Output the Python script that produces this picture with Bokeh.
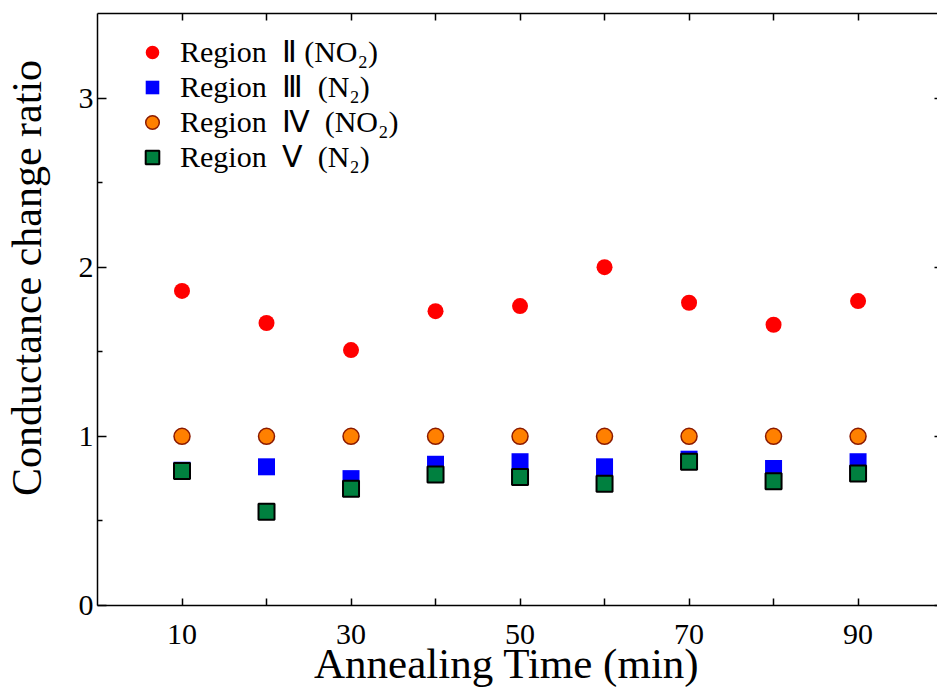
from bokeh.plotting import figure
from bokeh.models import Range1d, FixedTicker, LinearAxis, Legend, LegendItem
from bokeh.embed import file_html
from bokeh.resources import INLINE

# ---- data ----
annealing_time = [10, 20, 30, 40, 50, 60, 70, 80, 90]
region2_no2 = [1.86, 1.67, 1.51, 1.74, 1.77, 2.00, 1.79, 1.66, 1.80]
region3_n2 = [0.80, 0.82, 0.75, 0.835, 0.85, 0.82, 0.865, 0.81, 0.85]
region4_no2 = [1.00, 1.00, 1.00, 1.00, 1.00, 1.00, 1.00, 1.00, 1.00]
region5_n2 = [0.795, 0.555, 0.69, 0.775, 0.76, 0.72, 0.85, 0.735, 0.78]

NBSP = "\u00a0"
labels = ["Region" + NBSP + " Ⅱ (NO₂)",
          "Region" + NBSP + " Ⅲ" + NBSP + " (N₂)",
          "Region" + NBSP + " Ⅳ" + NBSP + " (NO₂)",
          "Region" + NBSP + " Ⅴ" + NBSP + " (N₂)"]
x_title = "Annealing Time (min)"
y_title = "Conductance change ratio"

x_major_ticks = [10, 30, 50, 70, 90]
x_minor_ticks = [20, 40, 60, 80]
y_major_ticks = [0, 1, 2, 3]
y_minor_ticks = [0.5, 1.5, 2.5]

FONT = "Liberation Serif"

p = figure(width=937, height=689,
           x_range=Range1d(0, 99.4), y_range=Range1d(0, 3.5),
           output_backend="svg", toolbar_location=None,
           min_border_left=97, min_border_right=0,
           min_border_top=13, min_border_bottom=84,
           x_axis_label=x_title + NBSP * 2,
           y_axis_label=NBSP * 6 + y_title)
p.outline_line_color = None
p.grid.visible = False
p.background_fill_color = "white"
p.border_fill_color = "white"

# bottom axis
xa = p.xaxis[0]
xa.ticker = FixedTicker(ticks=x_major_ticks, minor_ticks=x_minor_ticks)
xa.major_tick_in = 7
xa.major_tick_out = 0
xa.minor_tick_in = 7
xa.minor_tick_out = 0
xa.axis_line_color = "black"
xa.major_tick_line_color = "black"
xa.minor_tick_line_color = "black"
xa.axis_line_width = 1.5
xa.major_tick_line_width = 1.5
xa.minor_tick_line_width = 1.5
xa.major_label_text_font = FONT
xa.major_label_text_font_size = "30px"
xa.major_label_text_color = "black"
xa.major_label_standoff = 19
xa.axis_label_text_font = FONT
xa.axis_label_text_font_style = "normal"
xa.axis_label_text_font_size = "43px"
xa.axis_label_text_color = "black"
xa.axis_label_standoff = -7

# left axis
ya = p.yaxis[0]
ya.ticker = FixedTicker(ticks=y_major_ticks, minor_ticks=y_minor_ticks)
ya.major_tick_in = 9
ya.major_tick_out = 0
ya.minor_tick_in = 5
ya.minor_tick_out = 0
ya.axis_line_color = "black"
ya.major_tick_line_color = "black"
ya.minor_tick_line_color = "black"
ya.axis_line_width = 1.5
ya.major_tick_line_width = 1.5
ya.minor_tick_line_width = 1.5
ya.major_label_text_font = FONT
ya.major_label_text_font_size = "30px"
ya.major_label_text_color = "black"
ya.major_label_standoff = 4
ya.axis_label_text_font = FONT
ya.axis_label_text_font_style = "normal"
ya.axis_label_text_font_size = "42px"
ya.axis_label_text_color = "black"
ya.axis_label_standoff = 26

# top axis (ticks only)
top = LinearAxis(ticker=FixedTicker(ticks=x_major_ticks + x_minor_ticks, minor_ticks=[]),
                 major_label_text_font_size="1px", major_label_text_color=None,
                 major_label_standoff=0,
                 major_tick_in=7, major_tick_out=0, minor_tick_in=0, minor_tick_out=0,
                 axis_line_color="black", major_tick_line_color="black",
                 axis_line_width=1.5, major_tick_line_width=1.5)
p.add_layout(top, "above")

# right axis (ticks only)
right = LinearAxis(ticker=FixedTicker(ticks=y_major_ticks, minor_ticks=[]),
                   major_label_text_font_size="1px", major_label_text_color=None,
                   major_label_standoff=0,
                   major_tick_in=3, major_tick_out=0, minor_tick_in=0, minor_tick_out=0,
                   axis_line_color=None, major_tick_line_color="black",
                   major_tick_line_width=1.5)
p.add_layout(right, "right")

# ---- data glyphs ----
r2 = p.scatter(annealing_time, region2_no2, marker="circle", size=16,
               fill_color="#FF0000", line_color=None)
r4 = p.scatter(annealing_time, region4_no2, marker="circle", size=16,
               fill_color="#FF8000", line_color="#8B1A00", line_width=1.5)
r3 = p.scatter(annealing_time, region3_n2, marker="square", size=17,
               fill_color="#0000FF", line_color=None)
r5 = p.scatter(annealing_time, region5_n2, marker="square", size=16,
               fill_color="#00803F", line_color="#000000", line_width=2)

legend = Legend(items=[LegendItem(label=labels[0], renderers=[r2]),
                       LegendItem(label=labels[1], renderers=[r3]),
                       LegendItem(label=labels[2], renderers=[r4]),
                       LegendItem(label=labels[3], renderers=[r5])],
                location=(35, 431), glyph_width=40, glyph_height=34,
                spacing=0, padding=0, margin=0, label_standoff=8,
                label_text_font=FONT, label_text_font_size="30px",
                label_text_color="black",
                border_line_color=None, background_fill_alpha=0)
p.add_layout(legend)

open("out.html", "w").write(file_html(p, INLINE))
